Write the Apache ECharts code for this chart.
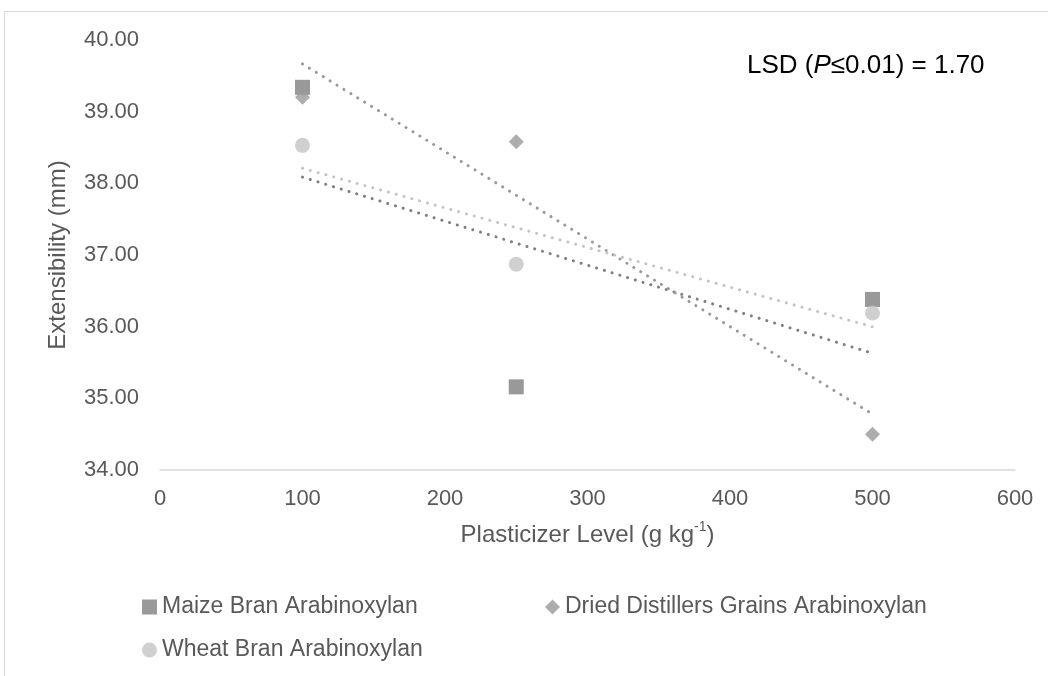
<!DOCTYPE html>
<html>
<head>
<meta charset="utf-8">
<script src="https://cdn.jsdelivr.net/npm/echarts@6/dist/echarts.min.js"></script>
<style>
  html, body { margin: 0; padding: 0; background: #fff; }
  #chart { width: 1048px; height: 676px; }
</style>
</head>
<body>
<div id="chart"></div>
<script>
var levels = [100, 250, 500];
var maizeBran = [39.34, 35.16, 36.38];
var ddgs = [39.20, 38.58, 34.50];
var wheatBran = [38.53, 36.87, 36.19];
var yTicks = [34, 35, 36, 37, 38, 39, 40];

var names = ['Maize Bran Arabinoxylan', 'Dried Distillers Grains Arabinoxylan', 'Wheat Bran Arabinoxylan'];

function pairs(ys) {
  return levels.map(function (x, i) { return [x, ys[i]]; });
}

// linear trendline (least squares), drawn between first and last level like Excel
function trend(ys) {
  var n = levels.length, mx = 0, my = 0;
  for (var i = 0; i < n; i++) { mx += levels[i]; my += ys[i]; }
  mx /= n; my /= n;
  var sxy = 0, sxx = 0;
  for (i = 0; i < n; i++) {
    sxy += (levels[i] - mx) * (ys[i] - my);
    sxx += (levels[i] - mx) * (levels[i] - mx);
  }
  var b = sxy / sxx, a = my - b * mx;
  var x0 = levels[0], x1 = levels[n - 1];
  return [[x0, a + b * x0], [x1, a + b * x1]];
}

var font = 'Liberation Sans, Arial, sans-serif';
var grey = '#595959';

function trendSeries(ys, color) {
  return {
    type: 'line',
    data: trend(ys),
    showSymbol: false,
    silent: true,
    z: 1,
    lineStyle: { color: color, width: 3, type: [0.1, 8], cap: 'round' }
  };
}

function legendFor(name, icon, left, top) {
  return {
    data: [{ name: name, icon: icon }],
    left: left,
    top: top,
    padding: 0,
    itemWidth: 15,
    itemHeight: 15,
    textStyle: { fontFamily: font, fontSize: 23, color: grey, lineHeight: 26 }
  };
}

var chart = echarts.init(document.getElementById('chart'));
chart.setOption({
  animation: false,
  backgroundColor: '#fff',
  title: {
    text: '{a|LSD (}{i|P}{a|≤0.01) = 1.70}',
    left: 747,
    top: 53,
    padding: 0,
    textStyle: {
      fontWeight: 'normal',
      rich: {
        a: { fontFamily: font, fontSize: 26, color: '#000', fontWeight: 'normal' },
        i: { fontFamily: font, fontSize: 26, color: '#000', fontWeight: 'normal', fontStyle: 'italic' }
      }
    }
  },
  graphic: [{
    type: 'rect',
    shape: { x: 4.5, y: 11.5, width: 2000, height: 2000 },
    style: { fill: 'none', stroke: '#d9d9d9', lineWidth: 1 },
    z: -10,
    silent: true
  }],
  legend: [
    legendFor(names[0], 'rect', 142, 594),
    legendFor(names[1], 'diamond', 545, 594),
    legendFor(names[2], 'circle', 142, 637)
  ],
  grid: { left: 160, right: 33, top: 40, bottom: 206 },
  xAxis: {
    type: 'value',
    min: 0,
    max: 600,
    interval: 100,
    name: '{a|Plasticizer Level (g kg}{s|-1}{a|)}',
    nameLocation: 'middle',
    nameGap: 50,
    nameTextStyle: {
      rich: {
        a: { fontFamily: font, fontSize: 24, color: grey, lineHeight: 30 },
        s: { fontFamily: font, fontSize: 14, color: grey, verticalAlign: 'top', lineHeight: 16 }
      }
    },
    axisLine: { show: true, lineStyle: { color: '#d9d9d9', width: 1.5 } },
    axisTick: { show: false },
    splitLine: { show: false },
    axisLabel: { fontFamily: font, fontSize: 22, color: grey, margin: 18 }
  },
  yAxis: {
    type: 'value',
    min: yTicks[0],
    max: yTicks[yTicks.length - 1],
    interval: 1,
    name: 'Extensibility (mm)',
    nameLocation: 'middle',
    nameGap: 90,
    nameTextStyle: { fontFamily: font, fontSize: 24, color: grey },
    axisLine: { show: false },
    axisTick: { show: false },
    splitLine: { show: false },
    axisLabel: {
      fontFamily: font, fontSize: 22, color: grey, margin: 21,
      formatter: function (v) { return v.toFixed(2); }
    }
  },
  series: [
    {
      name: names[0], type: 'scatter', data: pairs(maizeBran),
      symbol: 'rect', symbolSize: 15, z: 3,
      itemStyle: { color: '#7f7f7f' }
    },
    {
      name: names[1], type: 'scatter', data: pairs(ddgs),
      symbol: 'diamond', symbolSize: 15, z: 3,
      itemStyle: { color: '#999999' }
    },
    {
      name: names[2], type: 'scatter', data: pairs(wheatBran),
      symbol: 'circle', symbolSize: 15, z: 3,
      itemStyle: { color: '#c4c4c4' }
    },
    trendSeries(maizeBran, '#7f7f7f'),
    trendSeries(ddgs, '#999999'),
    trendSeries(wheatBran, '#c4c4c4')
  ]
});
</script>
</body>
</html>
